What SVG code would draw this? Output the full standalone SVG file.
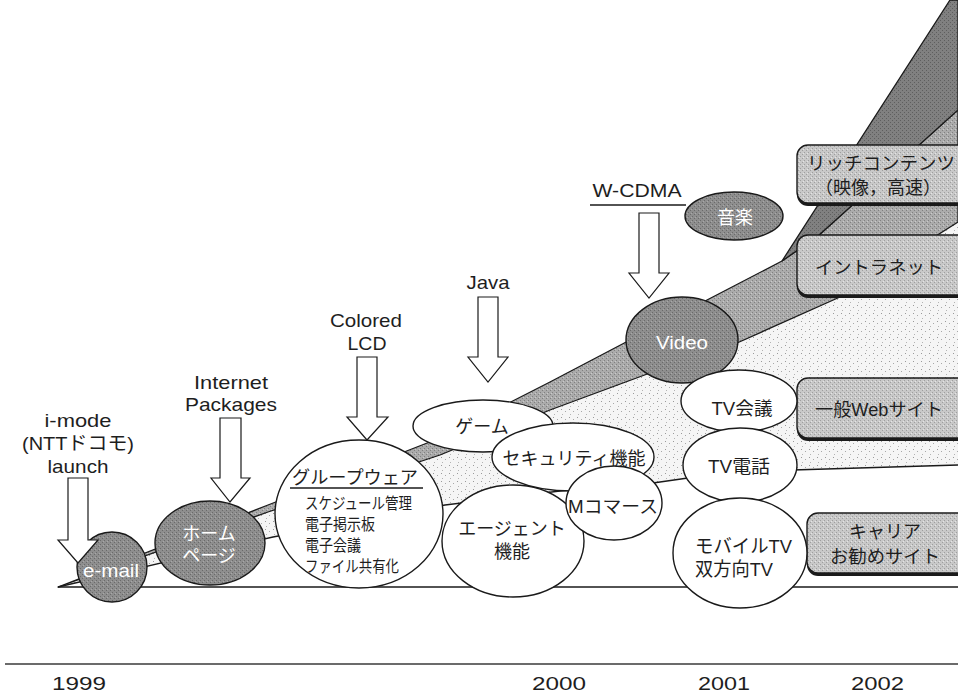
<svg xmlns="http://www.w3.org/2000/svg" width="958" height="693" viewBox="0 0 958 693">
  <style>
    text { font-family: "Liberation Sans", "Noto Sans CJK JP", sans-serif; fill: #1e1e1e; }
    .lbl { font-size: 19px; text-anchor: middle; }
    .in { font-size: 18px; text-anchor: middle; }
    .inw { font-size: 18px; text-anchor: middle; fill: #ffffff; }
    .yr { font-size: 19px; }
    .edge { fill: none; stroke: #1a1a1a; stroke-width: 1.3; stroke-linejoin: round; }
    .wnode { fill: #ffffff; stroke: #1a1a1a; stroke-width: 1.4; }
    .dnode { fill: url(#grainDark); stroke: #1a1a1a; stroke-width: 1.4; }
    .arrow { fill: #ffffff; stroke: #1a1a1a; stroke-width: 1.2; stroke-linejoin: miter; }
    .box { fill: url(#grainBox); stroke: #1a1a1a; stroke-width: 1.4; }
    .shadow { fill: #1a1a1a; }
  </style>
  <defs>
    <!-- stippled light fill for the general web band -->
    <pattern id="dots" width="8" height="8" patternUnits="userSpaceOnUse">
      <rect width="8" height="8" fill="#f5f5f5"/>
      <rect x="1" y="1" width="1" height="1" fill="#9a9a9a"/>
      <rect x="5" y="3" width="1" height="1" fill="#a8a8a8"/>
      <rect x="2" y="6" width="1" height="1" fill="#b4b4b4"/>
    </pattern>
    <!-- halftone-like greys -->
    <pattern id="grainMid" width="4" height="4" patternUnits="userSpaceOnUse">
      <rect width="4" height="4" fill="#ababab"/>
      <rect x="0" y="0" width="1" height="1" fill="#808080"/>
      <rect x="2" y="2" width="1" height="1" fill="#808080"/>
      <rect x="3" y="1" width="1" height="1" fill="#cacaca"/>
    </pattern>
    <pattern id="grainDark" width="4" height="4" patternUnits="userSpaceOnUse">
      <rect width="4" height="4" fill="#8e8e8e"/>
      <rect x="0" y="0" width="1" height="1" fill="#6a6a6a"/>
      <rect x="2" y="2" width="1" height="1" fill="#6a6a6a"/>
      <rect x="3" y="1" width="1" height="1" fill="#a8a8a8"/>
    </pattern>
    <pattern id="grainDeep" width="4" height="4" patternUnits="userSpaceOnUse">
      <rect width="4" height="4" fill="#808080"/>
      <rect x="0" y="0" width="1" height="1" fill="#5e5e5e"/>
      <rect x="2" y="2" width="1" height="1" fill="#5e5e5e"/>
    </pattern>
    <pattern id="grainBox" width="4" height="4" patternUnits="userSpaceOnUse">
      <rect width="4" height="4" fill="#c8c8c8"/>
      <rect x="0" y="0" width="1" height="1" fill="#9e9e9e"/>
      <rect x="2" y="2" width="1" height="1" fill="#9e9e9e"/>
      <rect x="3" y="1" width="1" height="1" fill="#e4e4e4"/>
    </pattern>
  </defs>

  <rect width="958" height="693" fill="#ffffff"/>

  <!-- service bands fanning out from the launch point -->
  <g id="bands">
    <path id="band-web" fill="url(#dots)" d="M58,587 L268,512 L440,455 L550,410 L650,373 L737,343 L840,297 L958,222 L958,465 L793,470 L688,478 L653,483 L560,491 L445,505 L273,537 Z"/>
    <path id="band-intranet" class="edge" style="fill:url(#grainMid)" d="M58,587 L268,505 L440,438 L550,382 L630,340 L707,300 L782,261 L818,236 L958,110 L958,222 L840,297 L737,343 L650,373 L550,410 L440,455 L268,512 Z"/>
    <path id="band-rich" class="edge" style="fill:url(#grainDeep)" d="M782,261 L950,0 L958,0 L958,110 L818,236 Z"/>
    <path class="edge" d="M58,587 L273,537 L445,505 L560,491 L653,483 L688,478 L793,470 L958,465"/>
    <line class="edge" x1="58" y1="587" x2="958" y2="587" stroke-width="1.6"/>
  </g>

  <!-- labelled boxes on the right -->
  <g id="box-rich">
    <rect class="shadow" x="797" y="148" width="180" height="58" rx="11"/>
    <rect class="box" x="797" y="145" width="180" height="58" rx="11"/>
    <text class="in" x="881" y="170" textLength="148" lengthAdjust="spacingAndGlyphs">リッチコンテンツ</text>
    <text class="in" x="878" y="194">（映像，高速）</text>
  </g>
  <g id="box-intranet">
    <rect class="shadow" x="797" y="238" width="180" height="60" rx="11"/>
    <rect class="box" x="797" y="235" width="180" height="60" rx="11"/>
    <text class="in" x="879" y="274" textLength="128" lengthAdjust="spacingAndGlyphs">イントラネット</text>
  </g>
  <g id="box-web">
    <rect class="shadow" x="797" y="381" width="180" height="60" rx="11"/>
    <rect class="box" x="797" y="378" width="180" height="60" rx="11"/>
    <text class="in" x="879" y="416" textLength="128" lengthAdjust="spacingAndGlyphs">一般Webサイト</text>
  </g>
  <g id="box-carrier">
    <rect class="shadow" x="807" y="516" width="175" height="60" rx="11"/>
    <rect class="box" x="807" y="513" width="175" height="60" rx="11"/>
    <text class="in" x="885" y="538">キャリア</text>
    <text class="in" x="885" y="563" textLength="110" lengthAdjust="spacingAndGlyphs">お勧めサイト</text>
  </g>

  <!-- service nodes -->
  <g id="node-email">
    <ellipse class="dnode" cx="112" cy="567" rx="35" ry="35"/>
    <text class="inw" x="111" y="577" textLength="56" lengthAdjust="spacingAndGlyphs">e-mail</text>
  </g>
  <g id="node-homepage">
    <ellipse class="dnode" cx="210" cy="543" rx="55" ry="42"/>
    <text class="inw" x="209" y="540">ホーム</text>
    <text class="inw" x="209" y="562">ページ</text>
  </g>
  <g id="node-groupware">
    <ellipse class="wnode" cx="359" cy="514" rx="84" ry="74"/>
    <text x="292" y="484" font-size="18" textLength="126" lengthAdjust="spacingAndGlyphs">グループウェア</text>
    <line x1="290" y1="488" x2="423" y2="488" stroke="#1a1a1a" stroke-width="1.3"/>
    <text x="305" y="509" font-size="16" textLength="107" lengthAdjust="spacingAndGlyphs">スケジュール管理</text>
    <text x="305" y="530" font-size="16" textLength="70" lengthAdjust="spacingAndGlyphs">電子掲示板</text>
    <text x="305" y="551" font-size="16" textLength="56" lengthAdjust="spacingAndGlyphs">電子会議</text>
    <text x="305" y="572" font-size="16" textLength="94" lengthAdjust="spacingAndGlyphs">ファイル共有化</text>
  </g>
  <g id="node-game">
    <ellipse class="wnode" cx="483" cy="426" rx="70" ry="26"/>
    <text class="in" x="482" y="433">ゲーム</text>
  </g>
  <g id="node-agent">
    <ellipse class="wnode" cx="513" cy="541" rx="71" ry="56"/>
    <text class="in" x="512" y="535">エージェント</text>
    <text class="in" x="512" y="558">機能</text>
  </g>
  <g id="node-security">
    <ellipse class="wnode" cx="573" cy="457" rx="81" ry="34"/>
    <text class="in" x="574" y="465">セキュリティ機能</text>
  </g>
  <g id="node-mcommerce">
    <ellipse class="wnode" cx="614" cy="503" rx="48" ry="37"/>
    <text class="in" x="613" y="513" textLength="90" lengthAdjust="spacingAndGlyphs">Mコマース</text>
  </g>
  <g id="node-video">
    <ellipse class="dnode" cx="682" cy="340" rx="56" ry="43"/>
    <text class="inw" x="682" y="349" textLength="52" lengthAdjust="spacingAndGlyphs">Video</text>
  </g>
  <g id="node-music">
    <ellipse class="dnode" cx="734" cy="216" rx="49" ry="24"/>
    <text class="inw" x="735" y="224">音楽</text>
  </g>
  <g id="node-tvconf">
    <ellipse class="wnode" cx="739" cy="401" rx="58" ry="31"/>
    <text class="in" x="742" y="415" font-size="19" textLength="61" lengthAdjust="spacingAndGlyphs">TV会議</text>
  </g>
  <g id="node-tvphone">
    <ellipse class="wnode" cx="740" cy="465" rx="57" ry="37"/>
    <text class="in" x="739" y="473" font-size="19" textLength="62" lengthAdjust="spacingAndGlyphs">TV電話</text>
  </g>
  <g id="node-mobiletv">
    <ellipse class="wnode" cx="740" cy="553" rx="67" ry="55"/>
    <text x="695" y="553" font-size="19" textLength="97" lengthAdjust="spacingAndGlyphs">モバイルTV</text>
    <text x="695" y="576" font-size="19" textLength="78" lengthAdjust="spacingAndGlyphs">双方向TV</text>
  </g>

  <!-- technology milestones pointing at the services they enabled -->
  <g id="connectors">
    <path class="arrow" d="M68,478 L88,478 L88,540 L98,540 L78,563 L58,540 L68,540 Z"/>
    <path class="arrow" d="M220,418 L241,418 L241,478 L250,478 L230,502 L211,478 L220,478 Z"/>
    <path class="arrow" d="M357,357 L377,357 L377,417 L388,417 L367,440 L347,417 L357,417 Z"/>
    <path class="arrow" d="M478,297 L498,297 L498,357 L508,357 L488,382 L468,357 L478,357 Z"/>
    <path class="arrow" d="M639,213 L659,213 L659,273 L669,273 L649,298 L629,273 L639,273 Z"/>
  </g>

  <g id="milestone-labels">
    <text class="lbl" x="78" y="427" textLength="67" lengthAdjust="spacingAndGlyphs">i-mode</text>
    <text class="lbl" x="78" y="450" textLength="112" lengthAdjust="spacingAndGlyphs">(NTTドコモ)</text>
    <text class="lbl" x="78" y="473" textLength="61" lengthAdjust="spacingAndGlyphs">launch</text>
    <text class="lbl" x="231" y="389" textLength="74" lengthAdjust="spacingAndGlyphs">Internet</text>
    <text class="lbl" x="231" y="411" textLength="92" lengthAdjust="spacingAndGlyphs">Packages</text>
    <text class="lbl" x="366" y="327" textLength="72" lengthAdjust="spacingAndGlyphs">Colored</text>
    <text class="lbl" x="367" y="350" textLength="39" lengthAdjust="spacingAndGlyphs">LCD</text>
    <text class="lbl" x="488" y="289" textLength="43" lengthAdjust="spacingAndGlyphs">Java</text>
    <text class="lbl" x="637" y="197" textLength="89" lengthAdjust="spacingAndGlyphs">W-CDMA</text>
    <line x1="590" y1="205" x2="686" y2="205" stroke="#1a1a1a" stroke-width="1.3"/>
  </g>

  <!-- time axis -->
  <g id="axis">
    <line x1="5" y1="664" x2="958" y2="664" stroke="#3a3a3a" stroke-width="1.6"/>
    <text class="yr" x="52" y="690" textLength="54" lengthAdjust="spacingAndGlyphs">1999</text>
    <text class="yr" x="532" y="690" textLength="54" lengthAdjust="spacingAndGlyphs">2000</text>
    <text class="yr" x="698" y="690" textLength="52" lengthAdjust="spacingAndGlyphs">2001</text>
    <text class="yr" x="851" y="690" textLength="53" lengthAdjust="spacingAndGlyphs">2002</text>
  </g>
</svg>
